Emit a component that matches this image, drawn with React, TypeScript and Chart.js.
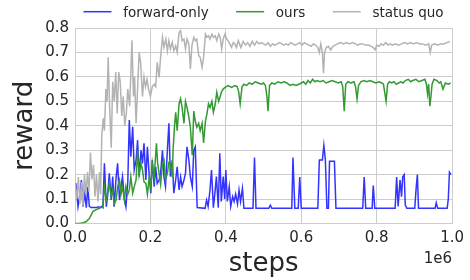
import React, { useEffect, useRef } from "react";
import { Chart, registerables } from "chart.js";

Chart.register(...registerables);

// x values in units of 1e6 steps
const fwdX = [0.002,0.008,0.013,0.017,0.021,0.026,0.030,0.034,0.038,0.043,0.050,0.056,0.062,0.066,0.070,0.074,0.078,0.083,0.087,0.091,0.096,0.100,0.104,0.109,0.113,0.118,0.122,0.126,0.131,0.135,0.140,0.144,0.148,0.153,0.157,0.162,0.166,0.170,0.175,0.179,0.183,0.188,0.192,0.197,0.201,0.205,0.210,0.214,0.218,0.223,0.227,0.232,0.236,0.240,0.245,0.249,0.253,0.258,0.262,0.267,0.271,0.276,0.280,0.284,0.289,0.293,0.297,0.302,0.306,0.311,0.315,0.319,0.324,0.345,0.349,0.353,0.358,0.362,0.367,0.371,0.375,0.380,0.384,0.388,0.393,0.397,0.400,0.404,0.409,0.413,0.418,0.422,0.426,0.431,0.435,0.439,0.444,0.448,0.472,0.476,0.480,0.514,0.518,0.522,0.575,0.578,0.583,0.592,0.596,0.600,0.644,0.648,0.656,0.660,0.664,0.668,0.672,0.675,0.688,0.692,0.763,0.767,0.771,0.788,0.791,0.795,0.849,0.853,0.857,0.862,0.866,0.869,0.873,0.876,0.880,0.901,0.905,0.908,0.911,0.955,0.958,0.962,0.987,0.990,0.993,0.997];
const fwdY = [0.165,0.069,0.12,0.178,0.069,0.124,0.065,0.15,0.07,0.065,0.065,0.065,0.068,0.065,0.07,0.065,0.246,0.069,0.12,0.205,0.096,0.192,0.069,0.19,0.246,0.096,0.15,0.192,0.10,0.069,0.17,0.423,0.273,0.396,0.219,0.26,0.341,0.192,0.30,0.246,0.328,0.178,0.314,0.192,0.124,0.26,0.151,0.232,0.164,0.178,0.205,0.30,0.19,0.151,0.30,0.41,0.192,0.26,0.124,0.178,0.232,0.137,0.19,0.151,0.178,0.205,0.314,0.26,0.19,0.151,0.30,0.314,0.065,0.062,0.096,0.07,0.137,0.219,0.065,0.124,0.192,0.065,0.287,0.09,0.192,0.10,0.219,0.09,0.151,0.07,0.11,0.09,0.12,0.08,0.137,0.09,0.144,0.062,0.062,0.27,0.062,0.062,0.075,0.062,0.062,0.27,0.062,0.062,0.19,0.062,0.062,0.26,0.26,0.32,0.26,0.062,0.062,0.255,0.255,0.062,0.062,0.19,0.062,0.062,0.155,0.062,0.062,0.19,0.07,0.178,0.11,0.19,0.20,0.075,0.062,0.062,0.15,0.20,0.062,0.062,0.085,0.062,0.062,0.10,0.21,0.20];

const oursX = [0.000,0.010,0.020,0.030,0.038,0.043,0.048,0.056,0.062,0.068,0.074,0.078,0.083,0.087,0.091,0.096,0.100,0.104,0.109,0.113,0.118,0.122,0.126,0.131,0.135,0.140,0.144,0.148,0.153,0.157,0.162,0.166,0.170,0.175,0.179,0.183,0.188,0.192,0.197,0.201,0.205,0.210,0.216,0.219,0.223,0.227,0.232,0.236,0.240,0.245,0.249,0.253,0.258,0.260,0.264,0.267,0.271,0.276,0.280,0.284,0.289,0.293,0.297,0.302,0.306,0.311,0.315,0.319,0.323,0.328,0.332,0.337,0.341,0.346,0.350,0.354,0.358,0.363,0.367,0.372,0.376,0.381,0.385,0.389,0.393,0.398,0.406,0.415,0.424,0.430,0.434,0.438,0.443,0.448,0.455,0.462,0.470,0.478,0.486,0.494,0.500,0.505,0.509,0.512,0.516,0.522,0.530,0.538,0.546,0.554,0.562,0.570,0.578,0.586,0.594,0.600,0.606,0.612,0.618,0.624,0.630,0.636,0.642,0.650,0.658,0.666,0.674,0.682,0.690,0.698,0.706,0.710,0.714,0.718,0.724,0.732,0.740,0.744,0.748,0.752,0.758,0.766,0.774,0.782,0.790,0.798,0.806,0.814,0.818,0.822,0.825,0.829,0.834,0.840,0.846,0.852,0.858,0.864,0.870,0.876,0.884,0.890,0.896,0.904,0.912,0.920,0.928,0.932,0.935,0.938,0.941,0.944,0.947,0.952,0.960,0.966,0.970,0.976,0.982,0.990,0.996];
const oursY = [0.0,0.0,0.002,0.008,0.02,0.035,0.05,0.057,0.06,0.065,0.069,0.151,0.096,0.13,0.164,0.11,0.137,0.08,0.096,0.15,0.178,0.12,0.15,0.096,0.151,0.12,0.137,0.192,0.124,0.15,0.178,0.30,0.20,0.246,0.219,0.17,0.164,0.12,0.192,0.15,0.246,0.19,0.328,0.25,0.205,0.16,0.246,0.26,0.18,0.205,0.25,0.246,0.19,0.30,0.40,0.455,0.38,0.489,0.51,0.475,0.41,0.50,0.475,0.435,0.394,0.28,0.46,0.42,0.394,0.41,0.38,0.41,0.33,0.42,0.45,0.49,0.475,0.50,0.455,0.489,0.537,0.50,0.52,0.54,0.55,0.557,0.564,0.557,0.564,0.56,0.54,0.49,0.56,0.57,0.565,0.575,0.57,0.58,0.575,0.57,0.575,0.565,0.52,0.46,0.565,0.575,0.57,0.58,0.575,0.58,0.575,0.565,0.57,0.565,0.57,0.575,0.58,0.57,0.585,0.575,0.59,0.58,0.585,0.58,0.585,0.575,0.58,0.585,0.58,0.575,0.58,0.56,0.46,0.57,0.58,0.575,0.58,0.56,0.51,0.565,0.58,0.585,0.58,0.585,0.58,0.575,0.58,0.575,0.57,0.53,0.50,0.57,0.58,0.575,0.58,0.57,0.575,0.58,0.575,0.585,0.59,0.58,0.585,0.59,0.58,0.585,0.59,0.57,0.53,0.57,0.48,0.52,0.57,0.59,0.585,0.575,0.58,0.55,0.575,0.57,0.575];

const sqX = [0.000,0.005,0.009,0.013,0.017,0.021,0.025,0.029,0.033,0.037,0.041,0.045,0.049,0.053,0.057,0.061,0.065,0.068,0.071,0.075,0.078,0.082,0.085,0.088,0.092,0.096,0.100,0.104,0.108,0.112,0.116,0.120,0.124,0.128,0.132,0.136,0.140,0.145,0.151,0.155,0.158,0.162,0.166,0.170,0.174,0.179,0.183,0.187,0.191,0.195,0.200,0.205,0.210,0.214,0.218,0.223,0.227,0.232,0.236,0.241,0.245,0.249,0.253,0.258,0.262,0.267,0.271,0.276,0.280,0.284,0.289,0.293,0.297,0.302,0.306,0.310,0.315,0.319,0.323,0.328,0.332,0.337,0.341,0.346,0.350,0.354,0.358,0.363,0.367,0.372,0.376,0.381,0.385,0.389,0.393,0.398,0.402,0.406,0.411,0.415,0.420,0.424,0.428,0.433,0.440,0.446,0.452,0.458,0.464,0.470,0.476,0.482,0.488,0.494,0.500,0.506,0.512,0.518,0.524,0.530,0.536,0.542,0.548,0.554,0.560,0.566,0.572,0.578,0.584,0.590,0.596,0.602,0.608,0.614,0.620,0.626,0.632,0.638,0.644,0.648,0.652,0.656,0.659,0.662,0.666,0.672,0.678,0.684,0.690,0.696,0.704,0.712,0.720,0.728,0.736,0.744,0.750,0.756,0.762,0.770,0.778,0.786,0.791,0.796,0.800,0.806,0.812,0.818,0.824,0.830,0.836,0.842,0.850,0.858,0.866,0.874,0.882,0.890,0.898,0.906,0.914,0.922,0.930,0.938,0.942,0.946,0.954,0.962,0.970,0.978,0.986,0.994];
const sqY = [0.165,0.10,0.19,0.08,0.17,0.07,0.20,0.12,0.21,0.13,0.29,0.18,0.24,0.11,0.20,0.09,0.21,0.12,0.36,0.43,0.38,0.55,0.50,0.68,0.47,0.31,0.58,0.50,0.62,0.45,0.62,0.58,0.44,0.52,0.40,0.45,0.55,0.48,0.75,0.52,0.60,0.41,0.55,0.70,0.66,0.52,0.60,0.56,0.59,0.55,0.52,0.56,0.57,0.56,0.66,0.598,0.68,0.762,0.721,0.755,0.707,0.748,0.714,0.741,0.707,0.727,0.70,0.782,0.789,0.748,0.755,0.714,0.755,0.734,0.632,0.727,0.762,0.748,0.755,0.687,0.68,0.639,0.68,0.775,0.762,0.768,0.755,0.775,0.762,0.768,0.748,0.775,0.762,0.714,0.755,0.775,0.755,0.748,0.734,0.721,0.741,0.734,0.72,0.748,0.72,0.745,0.73,0.74,0.725,0.745,0.73,0.745,0.735,0.74,0.735,0.73,0.74,0.725,0.735,0.73,0.735,0.74,0.735,0.73,0.735,0.73,0.74,0.735,0.73,0.735,0.74,0.73,0.74,0.735,0.73,0.725,0.735,0.73,0.72,0.70,0.735,0.70,0.615,0.70,0.72,0.725,0.71,0.725,0.73,0.735,0.74,0.735,0.74,0.735,0.74,0.735,0.73,0.735,0.735,0.73,0.73,0.725,0.72,0.71,0.73,0.725,0.735,0.73,0.74,0.73,0.735,0.73,0.735,0.73,0.735,0.74,0.735,0.74,0.735,0.74,0.735,0.735,0.73,0.735,0.70,0.73,0.735,0.73,0.735,0.735,0.74,0.745];

const seriesLabels = ["forward-only", "ours", "status quo"];
const seriesColors = ["#3333ff", "#339933", "#b3b3b3"];
const xTitle = "steps";
const yTitle = "reward";
const xOffsetLabel = "1e6";

const FONT = "DejaVu Sans";
const TEXT = "#262626";
const GRID = "#cccccc";

const pts = (xs: number[], ys: number[]) => xs.map((x, i) => ({ x, y: ys[i] }));

const overlayPlugin = {
  id: "overlay",
  afterDraw(chart: any) {
    const { ctx, chartArea } = chart;
    ctx.save();
    // legend
    ctx.font = `13.5px "${FONT}"`;
    const lineLen = 28;
    const gap = 11.7;
    const itemSpace = 27.5;
    const widths = seriesLabels.map((l) => ctx.measureText(l).width);
    const total = widths.reduce((a, w) => a + lineLen + gap + w, 0) + itemSpace * (seriesLabels.length - 1);
    let x = (chartArea.left + chartArea.right) / 2 - total / 2;
    const ly = 11.7;
    seriesLabels.forEach((l, i) => {
      ctx.strokeStyle = seriesColors[i];
      ctx.lineWidth = 1.5;
      ctx.beginPath();
      ctx.moveTo(x, ly);
      ctx.lineTo(x + lineLen, ly);
      ctx.stroke();
      x += lineLen + gap;
      ctx.fillStyle = TEXT;
      ctx.textBaseline = "alphabetic";
      ctx.textAlign = "left";
      ctx.fillText(l, x, 16.5);
      x += widths[i] + itemSpace;
    });
    // offset label
    ctx.font = `15px "${FONT}"`;
    ctx.textAlign = "right";
    ctx.fillText(xOffsetLabel, chartArea.right, 263);
    ctx.restore();
  },
};

export default function App() {
  const ref = useRef<HTMLCanvasElement>(null);
  useEffect(() => {
    document.body.style.margin = "0";
    Chart.defaults.font.family = FONT;
    const chart = new Chart(ref.current!, {
      type: "line",
      data: {
        datasets: [
          { label: seriesLabels[0], data: pts(fwdX, fwdY), borderColor: seriesColors[0], backgroundColor: seriesColors[0], borderWidth: 1.5, pointRadius: 0, order: 3 },
          { label: seriesLabels[1], data: pts(oursX, oursY), borderColor: seriesColors[1], backgroundColor: seriesColors[1], borderWidth: 1.5, pointRadius: 0, order: 2 },
          { label: seriesLabels[2], data: pts(sqX, sqY), borderColor: seriesColors[2], backgroundColor: seriesColors[2], borderWidth: 1.5, pointRadius: 0, order: 1 },
        ],
      },
      options: {
        animation: false,
        responsive: false,
        layout: { padding: { left: 0, top: 28, right: 15, bottom: 0 } },
        plugins: { legend: { display: false }, tooltip: { enabled: false } },
        scales: {
          x: {
            type: "linear",
            min: 0,
            max: 1,
            afterFit: (s: any) => { s.height = 56.5; },
            ticks: { stepSize: 0.2, padding: 6, color: TEXT, font: { size: 15 }, callback: (v: any) => Number(v).toFixed(1) },
            grid: { color: GRID, drawTicks: false, lineWidth: 1 },
            border: { color: GRID },
            title: { display: true, text: xTitle, color: TEXT, font: { size: 26 }, padding: { top: 0, bottom: 0 } },
          },
          y: {
            min: 0,
            max: 0.8,
            afterFit: (s: any) => { s.width = 75; },
            ticks: { stepSize: 0.1, padding: 6, color: TEXT, font: { size: 15 }, callback: (v: any) => Number(v).toFixed(1) },
            grid: { color: GRID, drawTicks: false, lineWidth: 1 },
            border: { color: GRID },
            title: { display: true, text: yTitle, color: TEXT, font: { size: 26 }, padding: { top: 10, bottom: 0 } },
          },
        },
      },
      plugins: [overlayPlugin],
    });
    return () => chart.destroy();
  }, []);
  return (
    <div style={{ width: 470, height: 280, background: "#fff" }}>
      <canvas ref={ref} width={470} height={280} style={{ display: "block" }} />
    </div>
  );
}
